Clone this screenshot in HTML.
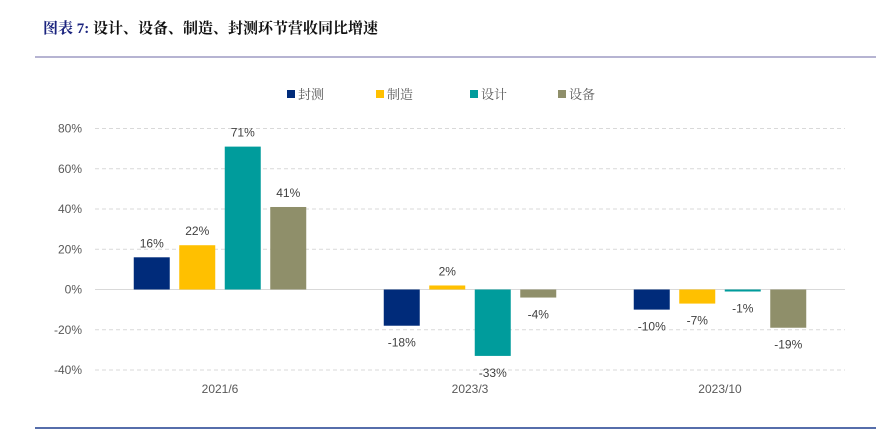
<!DOCTYPE html>
<html><head><meta charset="utf-8">
<style>
html,body{margin:0;padding:0;background:#fff;width:876px;height:434px;overflow:hidden}
.title{position:absolute;left:43px;top:17px;font:bold 15px "Liberation Serif","Noto Serif CJK SC",serif;color:#111;white-space:nowrap}
.title .n{color:#1a237e}
</style></head><body>
<div class="title"><span class="n">图表 7:</span> 设计、设备、制造、封测环节营收同比增速</div>
<svg width="876" height="434" style="position:absolute;left:0;top:0">
<line x1="35" y1="57" x2="876" y2="57" stroke="#8a86b8" stroke-width="1.3"/>
<line x1="35" y1="428" x2="876" y2="428" stroke="#1f3f8f" stroke-width="1.5"/>
<g id="grid"></g><g id="bars"></g><g id="legend"></g>
</svg>
<script>
const categories=["2021/6","2023/3","2023/10"];
const seriesNames=["封测","制造","设计","设备"];
const colors=["#002b7a","#ffc000","#009c9c","#8f8f6a"];
const sFengce=[16,-18,-10];
const sZhizao=[22,2,-7];
const sSheji=[71,-33,-1];
const sShebei=[41,-4,-19];
const series=[sFengce,sZhizao,sSheji,sShebei];
const ticks=[80,60,40,20,0,-20,-40];
const ns="http://www.w3.org/2000/svg";
const y=v=>289.5-v*(241.5/120);
const x0=95,gw=250,bw=36,pitch=45.5;
function mk(t,a,p){const e=document.createElementNS(ns,t);for(const k in a)e.setAttribute(k,a[k]);p.appendChild(e);return e;}
const grid=document.getElementById('grid');
ticks.forEach(t=>{
  const l=mk('line',{x1:95,x2:845,y1:y(t),y2:y(t),stroke:'#d9d9d9','stroke-width':1,'stroke-dasharray':t===0?'':'4,3'},grid);
  
  
  const tx=mk('text',{x:82,y:y(t)+4,'text-anchor':'end','font-family':'Liberation Sans, sans-serif','font-size':12,fill:'#595959'},grid);
  tx.textContent=t+'%';
  
  
});
const bars=document.getElementById('bars');
categories.forEach((c,i)=>{
  const cx=x0+gw*i+gw/2;
  const tx=mk('text',{x:cx,y:393,'text-anchor':'middle','font-family':'Liberation Sans, sans-serif','font-size':12,fill:'#595959'},bars);
  tx.textContent=c;
  
  
  series.forEach((s,j)=>{
    const v=s[i];
    const bx=cx+(j-1.5)*pitch-bw/2;
    const top=Math.min(y(v),y(0)),h=Math.max(Math.abs(y(v)-y(0)),1);
    const r=mk('rect',{x:bx,y:top,width:bw,height:h,fill:colors[j]},bars);
    
    
    const ly=v>=0?y(v)-10:y(v)+21;
    const lb=mk('text',{x:bx+bw/2,y:ly,'text-anchor':'middle','font-family':'Liberation Sans, sans-serif','font-size':12,fill:'#404040'},bars);
    lb.textContent=v+'%';
    
    
  });
});
const lg=document.getElementById('legend');
const lx=[287,376,470,558];
seriesNames.forEach((n,j)=>{
  const r=mk('rect',{x:lx[j],y:90,width:8,height:8,fill:colors[j]},lg);
  
  
  const t=mk('text',{x:lx[j]+11,y:99,'font-family':'Liberation Serif, Noto Serif CJK SC, serif','font-size':13,fill:'#595959'},lg);
  t.textContent=n;
  
  
});
</script>
</body></html>
